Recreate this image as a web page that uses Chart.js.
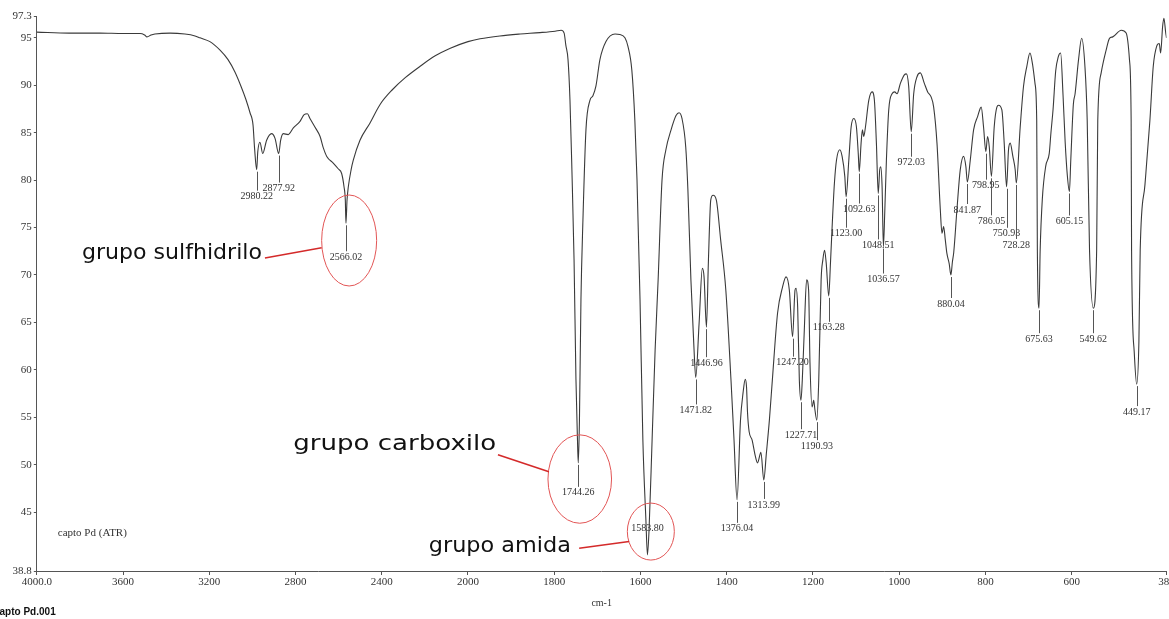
<!DOCTYPE html>
<html>
<head>
<meta charset="utf-8">
<title>capto Pd (ATR) – IR</title>
<script src="https://cdn.jsdelivr.net/npm/chart.js@4.4.1/dist/chart.umd.min.js"></script>
<style>
  html, body { margin: 0; padding: 0; background: #fff; }
  body { width: 1169px; height: 619px; overflow: hidden; }
  canvas { display: block; }
</style>
</head>
<body>
<canvas id="ir" width="1190" height="619"></canvas>
<script>
// ---------------- spectrum data (cm-1, %T) ----------------
const WAVENUMBER = [
  4000, 3850, 3707, 3600, 3521, 3500, 3489, 3470, 3452, 3382, 3313, 3266, 3243, 3197, 3150, 3113,
  3081, 3053, 3030, 3011, 2997, 2990, 2980.22, 2975, 2965, 2952, 2934, 2911, 2895, 2877.92, 2869,
  2857, 2834, 2810, 2779, 2760, 2745, 2733, 2710, 2686, 2671, 2655, 2625, 2602, 2586, 2575, 2569,
  2566.02, 2561, 2555, 2542, 2532, 2501, 2455, 2407, 2352, 2291, 2222, 2152, 2082, 2000,
  1972, 1926, 1879, 1833, 1798, 1784, 1777, 1773, 1768, 1763.5, 1759, 1754, 1749.6, 1746.1,
  1744.26, 1741.5, 1738, 1733.4, 1726.4, 1717.2, 1710.2, 1703.3, 1694, 1680, 1659, 1648, 1636,
  1629, 1620, 1613, 1608, 1601, 1594.4, 1587.4, 1583.80, 1580.1, 1573, 1566, 1559, 1550, 1541,
  1529, 1517.5, 1510.6, 1503.7, 1495, 1490, 1483, 1476, 1471.82, 1464, 1456.5, 1452.5, 1446.96,
  1442.5, 1437, 1431.6, 1424, 1414, 1402, 1390, 1383, 1376.04, 1368, 1362, 1357, 1354, 1351.7,
  1348, 1341, 1334, 1328.5, 1320.6, 1313.99, 1308, 1301, 1294, 1282, 1270.6, 1262.4, 1254.7,
  1247.20, 1241.5, 1239.2, 1235.4, 1231.5, 1227.71, 1224.7, 1220, 1214.7, 1210, 1206.8, 1202,
  1198.2, 1195.4, 1190.93, 1186.5, 1181, 1177, 1173, 1169.3, 1163.28, 1159.3, 1154, 1150, 1145.4,
  1137.7, 1132.3, 1126.1, 1123.00, 1116.8, 1111.4, 1105.2, 1099.1, 1094.5, 1092.63, 1088.3, 1085.2,
  1082.1, 1078.2, 1070.5, 1062.8, 1057.4, 1052.8, 1048.51, 1045.1, 1042.7, 1039.6, 1036.57, 1033.5,
  1029.6, 1024.2, 1016.5, 1010.3, 1004.9, 997.2, 988, 983.3, 977.9, 972.03, 966.3, 958.6, 950.9,
  941.6, 933.9, 926.2, 920, 912.3, 904.6, 900.7, 896.9, 893, 889.4, 884, 880.04, 876.5, 873.4,
  866, 858.3, 850.6, 845.2, 841.87, 835.1, 827.4, 818.1, 809.7, 804.3, 798.95, 795, 791, 786.05,
  779.6, 773.4, 769.5, 761.8, 756.4, 750.93, 746.4, 742.5, 736.3, 730.9, 728.28, 719.3, 711.6,
  703.9, 696.7, 691, 685, 681, 679.5, 675.63, 673, 668, 660, 652, 648, 643, 637, 631, 625.5, 620,
  615, 610, 605.15, 602, 596, 592, 584, 576.8, 569.2, 563.9, 558.5, 549.62, 542, 539.4, 531.5,
  520, 512.2, 504.6, 485, 473.6, 465.9, 462, 461, 455, 449.17, 444, 441, 430, 418.5, 410.7, 402.9,
  396.8, 393.6, 389, 386, 382, 380
];
const TRANSMITTANCE = [
  95.6, 95.5, 95.5, 95.45, 95.45, 95.3, 95.1, 95.3, 95.4, 95.5, 95.4, 95.2, 95.0, 94.6, 93.7, 92.7,
  91.4, 89.9, 88.5, 87.1, 85.8, 83.4, 81.1, 83.0, 84.0, 82.8, 84.2, 84.9, 84.4, 82.8, 84.2,
  84.9, 84.8, 85.5, 86.2, 86.9, 87.0, 86.5, 85.6, 84.6, 83.4, 82.5, 81.8, 81.2, 80.7, 79.3, 77.9,
  75.45, 77.9, 79.3, 81.1, 82.1, 84.2, 86.0, 88.0, 89.5, 90.8, 92.0, 93.1, 93.9, 94.6,
  94.9, 95.2, 95.4, 95.55, 95.7, 95.8, 95.5, 94.2, 92.7, 88.5, 81.1, 71.6, 59.0, 52.7,
  50.2, 54.7, 67.4, 75.8, 85.3, 88.4, 88.9, 89.9, 92.7, 94.6, 95.4, 95.35, 95.0,
  94.1, 91.6, 86.3, 80.0, 67.4, 52.6, 44.2, 40.5, 43.1, 52.6, 62.1, 69.5, 80.0, 83.2,
  85.3, 86.8, 87.1, 86.5, 83.5, 79.0, 69.5, 62.4, 59.2, 64.9, 70.7, 69.8, 64.5,
  71.3, 77.9, 78.4, 77.9, 73.7, 68.4, 58.9, 52.6, 46.3, 54.7, 57.6, 59.0, 58.2, 55.5,
  53.5, 52.6, 51.0, 50.2, 51.3, 48.4, 51.2, 54.7, 59.0, 66.0, 68.7, 69.8, 68.4,
  63.5, 68.4, 68.6, 66.6, 58.9, 56.8, 58.9, 64.2, 69.5, 68.4, 60.7, 56.1,
  56.8, 55.8, 54.7, 58.9, 69.5, 71.6, 72.6, 71.3, 67.8, 71.3, 76.5, 79.8, 82.1,
  83.2, 82.5, 80.4, 78.25, 82.1, 85.6, 86.5, 85.6, 82.5, 80.9, 83.9, 85.3,
  84.6, 85.6, 88.4, 89.3, 88.4, 83.9, 78.6, 81.1, 81.4, 79.3, 73.0, 76.5,
  82.1, 87.4, 89.1, 89.3, 89.1, 90.2, 91.1, 91.2, 89.9, 85.1, 89.1, 90.9, 91.3,
  90.2, 89.3, 88.8, 87.7, 83.9, 76.9, 74.4, 75.1, 73.7, 72.3, 71.2, 70.0, 71.4, 72.4,
  76.9, 81.1, 82.5, 81.4, 79.8, 82.1, 85.3, 86.7, 87.7, 85.6, 83.0, 84.6, 83.5, 80.4,
  85.6, 87.7, 87.9, 87.4, 83.9, 79.3, 83.2, 83.9, 82.5, 81.1, 79.7, 85.6, 89.9,
  92.0, 93.4, 92.3, 90.2, 86.3, 72.6, 66.5, 72.6, 78.0, 81.5, 82.8, 85.0, 87.5, 91.5, 93.0, 93.4, 89.0,
  84.0, 80.5, 78.8, 82.1, 88.0, 89.1, 92.7, 94.95, 92.0, 86.3, 72.6, 66.5, 72.6, 86.3, 91.3,
  93.7, 94.95, 95.1, 95.8, 95.5, 92.7, 86.3, 72.6, 62.0, 58.5, 63.0, 72.6, 79.5, 86.3, 92.0, 94.1,
  94.4, 93.4, 96.2, 97.06, 95.6, 95.0
];

// labelled band positions (cm-1)
const PEAKS = [
  2980.22, 2877.92, 2566.02, 1744.26, 1583.80, 1471.82, 1446.96, 1376.04, 1313.99, 1247.20,
  1227.71, 1190.93, 1163.28, 1123.00, 1092.63, 1048.51, 1036.57, 972.03, 880.04, 841.87,
  798.95, 786.05, 750.93, 728.28, 675.63, 605.15, 549.62, 449.17
];

// functional-group call-outs
const GROUP_PEAKS = [2566.02, 1744.26, 1583.80];
const GROUP_NAMES = ['grupo sulfhidrilo', 'grupo carboxilo', 'grupo amida'];

// axes
const X_TICKS = [4000, 3600, 3200, 2800, 2400, 2000, 1800, 1600, 1400, 1200, 1000, 800, 600, 380];
const X_TICK_LABELS = ['4000.0', '3600', '3200', '2800', '2400', '2000', '1800', '1600', '1400', '1200', '1000', '800', '600', '380'];
const Y_TICKS = [38.8, 45, 50, 55, 60, 65, 70, 75, 80, 85, 90, 95, 97.3];
const Y_TICK_LABELS = ['38.8', '45', '50', '55', '60', '65', '70', '75', '80', '85', '90', '95', '97.3'];

const SAMPLE_NAME = 'capto Pd (ATR)';
const FILE_NAME = 'capto Pd.001';
const X_TITLE = 'cm-1';

// ---------------- layout / style ----------------
// vertical distance (px) from a band tip to the centre of its label
const LABEL_DROP = {
  '2980.22': 27, '2877.92': 35, '2566.02': 34, '1744.26': 30, '1583.80': -26, '1471.82': 33,
  '1446.96': 36, '1376.04': 29, '1313.99': 25, '1247.20': 26, '1227.71': 35, '1190.93': 26,
  '1163.28': 32, '1123.00': 37, '1092.63': 38, '1048.51': 52, '1036.57': 33, '972.03': 31,
  '880.04': 29, '841.87': 28, '798.95': 34, '786.05': 45, '750.93': 47, '728.28': 62,
  '675.63': 31, '605.15': 30, '549.62': 31, '449.17': 28
};
// call-out geometry relative to the band label:
// ring [dx, dy, rx, ry], pointer [x1, y1, x2, y2], text [right, baseline], set width of the caption
const CALLOUT_LAYOUT = [
  { ring: [3.2, -16.8, 27.5, 45.5], pointer: [-81, 0.7, -24.3, -9.6], text: [-84, 1.5], width: 180 },
  { ring: [1.5, -13.8, 31.8, 44.2], pointer: [-80.3, -38, -29.3, -21], text: [-82, -43], width: 203 },
  { ring: [3.4, 2.7, 23.5, 28.5], pointer: [-68.3, 19.3, -18.3, 12.7], text: [-76.6, 23], width: 142 }
];

const INK = '#333';
const AXIS = '#555';
const SERIF = '"Liberation Serif", "Times New Roman", serif';

// ---------------- wavenumber axis with the usual 2x expansion below 2000 cm-1 ----------------
class SplitWavenumberScale extends Chart.LinearScale {
  static id = 'splitWavenumber';
  buildTicks() {
    this.start = this.max;
    this.end = this.min;
    return X_TICKS.map(v => ({ value: v }));
  }
  _span() {
    const b = this.options.breakAt, k = this.options.stretch;
    const upper = this.max - b;
    return { b, k, upper, total: upper + (b - this.min) * k };
  }
  getPixelForValue(v) {
    const { b, k, upper, total } = this._span();
    const u = v >= b ? this.max - v : upper + (b - v) * k;
    return this.getPixelForDecimal(u / total);
  }
  getValueForPixel(p) {
    const { b, k, upper, total } = this._span();
    const u = this.getDecimalForPixel(p) * total;
    return u <= upper ? this.max - u : b - (u - upper) / k;
  }
}
Chart.register(SplitWavenumberScale);

// band labels with leader lines
const bandLabels = {
  id: 'bandLabels',
  afterDatasetsDraw(chart) {
    const { ctx, scales: { x, y } } = chart;
    ctx.save();
    ctx.font = '10px ' + SERIF;
    ctx.textAlign = 'center';
    ctx.textBaseline = 'middle';
    ctx.fillStyle = INK;
    ctx.strokeStyle = AXIS;
    ctx.lineWidth = 1;
    PEAKS.forEach(w => {
      const i = WAVENUMBER.indexOf(w);
      const key = w.toFixed(2);
      const px = x.getPixelForValue(w);
      const tip = y.getPixelForValue(TRANSMITTANCE[i]);
      const drop = LABEL_DROP[key];
      const ly = tip + drop;
      if (drop > 0) {
        const lx = Math.round(px) + 0.5;
        ctx.beginPath();
        ctx.moveTo(lx, tip + 2);
        ctx.lineTo(lx, ly - 6);
        ctx.stroke();
      }
      ctx.fillText(key, px, ly);
    });
    ctx.restore();
  }
};

// red call-outs for the functional groups
const groupCallouts = {
  id: 'groupCallouts',
  afterDatasetsDraw(chart) {
    const { ctx, scales: { x, y } } = chart;
    ctx.save();
    GROUP_PEAKS.forEach((w, n) => {
      const L = CALLOUT_LAYOUT[n];
      const i = WAVENUMBER.indexOf(w);
      const lx = x.getPixelForValue(w);
      const ly = y.getPixelForValue(TRANSMITTANCE[i]) + LABEL_DROP[w.toFixed(2)];
      ctx.beginPath();
      ctx.ellipse(lx + L.ring[0], ly + L.ring[1], L.ring[2], L.ring[3], 0, 0, Math.PI * 2);
      ctx.strokeStyle = '#e25555';
      ctx.lineWidth = 1;
      ctx.stroke();
      ctx.beginPath();
      ctx.moveTo(lx + L.pointer[0], ly + L.pointer[1]);
      ctx.lineTo(lx + L.pointer[2], ly + L.pointer[3]);
      ctx.strokeStyle = '#d42a2a';
      ctx.lineWidth = 1.6;
      ctx.stroke();
      // caption, fitted to its set width
      ctx.save();
      ctx.font = '22px "DejaVu Sans", sans-serif';
      ctx.fillStyle = '#111';
      ctx.textAlign = 'right';
      ctx.textBaseline = 'alphabetic';
      const natural = ctx.measureText(GROUP_NAMES[n]).width;
      ctx.translate(lx + L.text[0], ly + L.text[1]);
      ctx.scale(L.width / natural, 1);
      ctx.fillText(GROUP_NAMES[n], 0, 0);
      ctx.restore();
    });
    ctx.restore();
  }
};

// sample name inside the plot and file name under the axis
const captions = {
  id: 'captions',
  afterDraw(chart) {
    const { ctx, chartArea } = chart;
    ctx.save();
    ctx.fillStyle = INK;
    ctx.font = '11px ' + SERIF;
    ctx.textAlign = 'left';
    ctx.textBaseline = 'middle';
    ctx.fillText(SAMPLE_NAME, chartArea.left + 21, chartArea.bottom - 38);
    ctx.fillStyle = '#111';
    ctx.font = 'bold 10px "Liberation Sans", Arial, sans-serif';
    ctx.fillText(FILE_NAME, -6, 612);
    ctx.restore();
  }
};

new Chart(document.getElementById('ir'), {
  type: 'line',
  data: {
    datasets: [{
      data: WAVENUMBER.map((w, i) => ({ x: w, y: TRANSMITTANCE[i] })),
      borderColor: '#3a3a3a',
      borderWidth: 1.1,
      pointRadius: 0,
      fill: false,
      cubicInterpolationMode: 'monotone'
    }]
  },
  options: {
    responsive: false,
    animation: false,
    devicePixelRatio: 1,
    events: [],
    layout: { padding: { top: 16, right: 23.5, left: 0, bottom: 0 } },
    plugins: { legend: { display: false }, tooltip: { enabled: false } },
    scales: {
      x: {
        type: 'splitWavenumber',
        min: 380,
        max: 4000,
        breakAt: 2000,
        stretch: 2,
        afterFit: s => { s.height = 48; },
        grid: { drawOnChartArea: false, drawTicks: true, tickLength: 4, color: AXIS, tickColor: AXIS },
        border: { display: true, color: AXIS, width: 1 },
        ticks: {
          autoSkip: false, maxRotation: 0, minRotation: 0, padding: 1,
          color: INK, font: { family: SERIF, size: 11 },
          callback: (v, i) => X_TICK_LABELS[i]
        },
        title: { display: true, text: X_TITLE, color: INK, font: { family: SERIF, size: 10 }, padding: { top: 0, bottom: 10 } }
      },
      y: {
        type: 'linear',
        min: 38.8,
        max: 97.3,
        afterBuildTicks: s => { s.ticks = Y_TICKS.map(v => ({ value: v })); },
        afterFit: s => { s.width = 36.8; },
        grid: { drawOnChartArea: false, drawTicks: true, tickLength: 3, color: AXIS, tickColor: AXIS },
        border: { display: true, color: AXIS, width: 1 },
        ticks: {
          padding: 2, color: INK, font: { family: SERIF, size: 11 },
          callback: v => Y_TICK_LABELS[Y_TICKS.indexOf(v)]
        }
      }
    }
  },
  plugins: [bandLabels, groupCallouts, captions]
});
</script>
</body>
</html>
